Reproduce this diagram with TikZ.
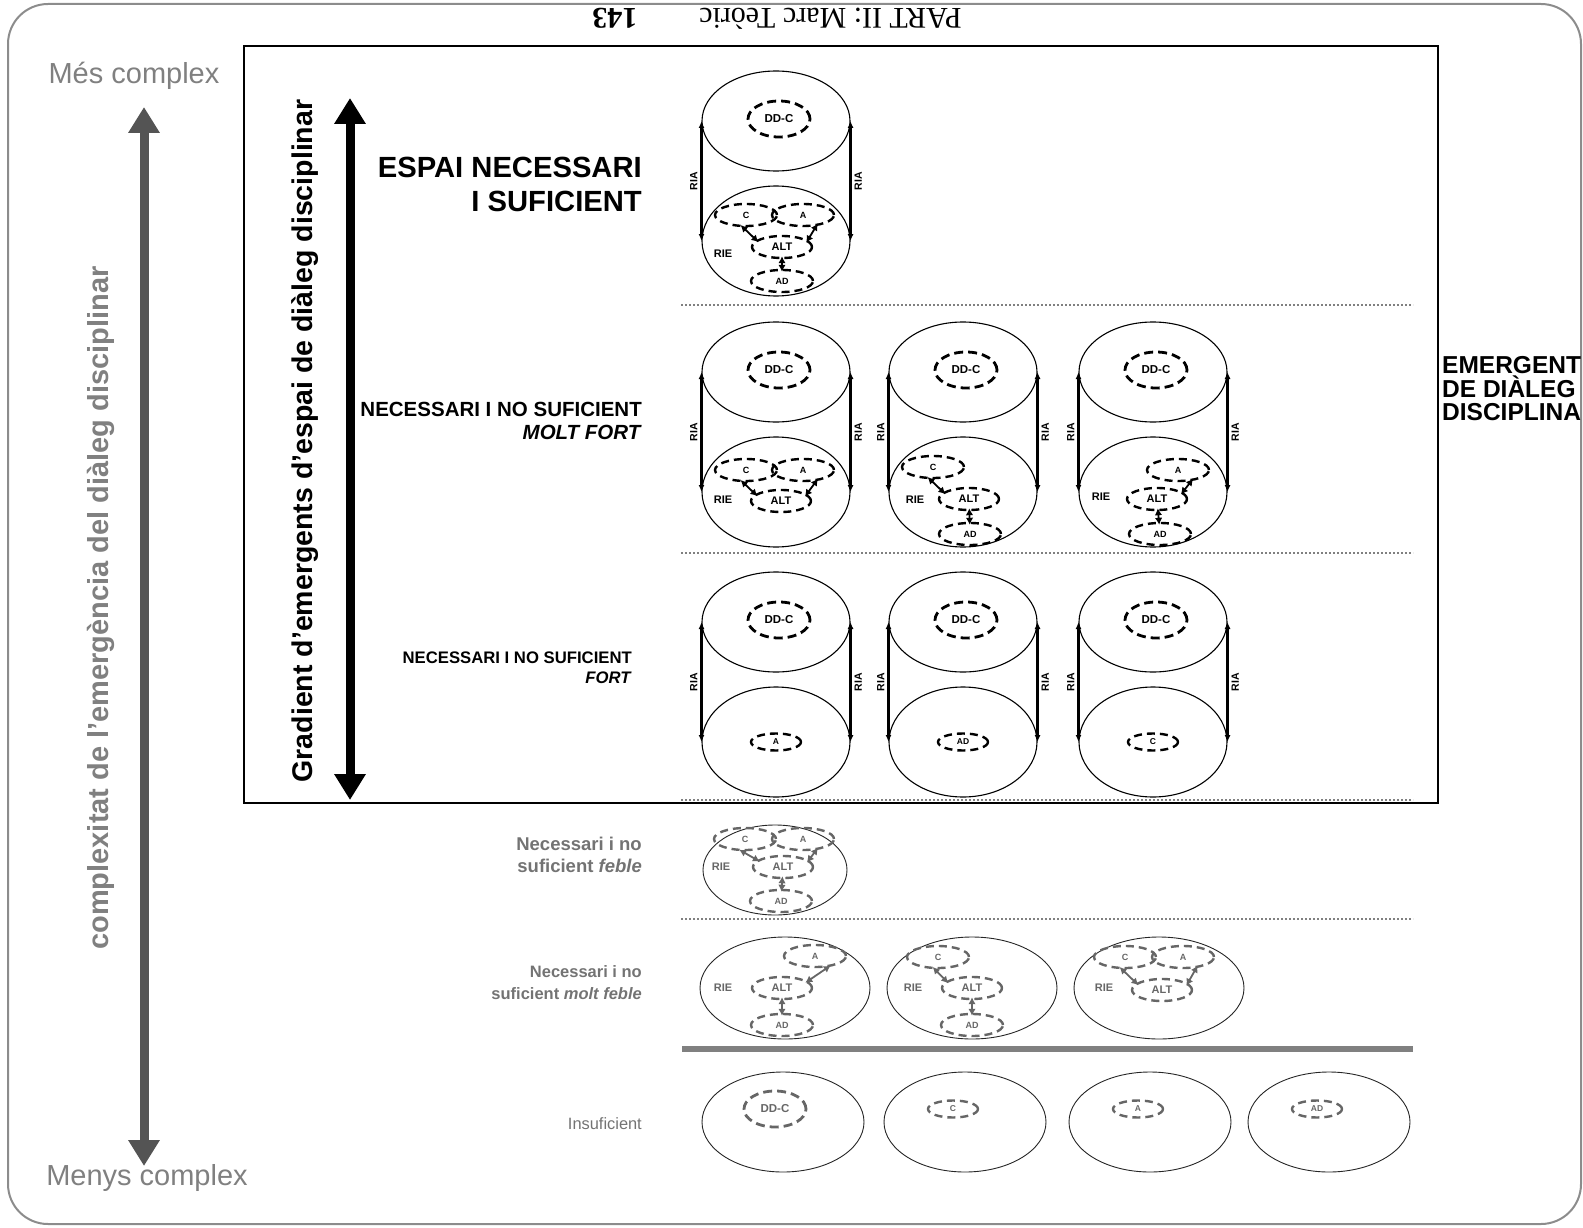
\documentclass[tikz,border=0pt]{standalone}
\usepackage{fontspec}
\setmainfont{Liberation Sans}
\newfontfamily\headserif{Liberation Serif}
\usetikzlibrary{shapes.geometric,arrows.meta}

\newcommand\fsz[2]{\fontsize{#1}{#2}\selectfont}

\tikzset{
  frame/.style={draw=black!45,line width=2pt,rounded corners=40pt},
  disc/.style={draw,ellipse,line width=1.1pt,minimum width=148pt,inner sep=0pt},
  shell/.style={draw=black!85,ellipse,line width=0.9pt,inner sep=0pt},
  ria/.style={line width=2.2pt,>={Latex[length=7pt,width=6pt]},<->},
  rialbl/.style={rotate=90,inner sep=3pt,font=\bfseries\fsz{10.5}{10.5}},
  ddc/.style={draw,ellipse,dash pattern=on 9pt off 5pt,line width=2.8pt,minimum width=62pt,minimum height=36pt,inner sep=0pt,font=\bfseries\fsz{11.5}{11.5}},
  sub/.style={draw,ellipse,dash pattern=on 8pt off 5pt,line width=2.4pt,minimum width=62pt,minimum height=22pt,inner sep=0pt,font=\bfseries\fsz{9}{9}},
  alt/.style={sub,minimum width=60pt,minimum height=22pt,font=\bfseries\fsz{11}{11}},
  subs/.style={sub,minimum width=50pt,minimum height=17pt,font=\bfseries\fsz{8.5}{8.5}},
  link/.style={line width=1.8pt,>={Latex[length=7pt,width=7.5pt]},<->,shorten <=-3pt,shorten >=-3pt},
  rie/.style={inner sep=0pt,font=\bfseries\fsz{11}{11}},
  bigarrow/.style={line width=9pt,>={Triangle[length=26pt,width=30pt]},<->},
  sep/.style={black!50,line width=1.6pt,dash pattern=on 2pt off 2pt},
  lbl/.style={anchor=east,align=right,inner sep=0pt}
}

% #1 prefix, #2 x, #3 y of top disc, #4 contents of the bottom disc
\newcommand\cylinder[4]{%
  \begin{scope}[name prefix=#1-]
  \node[disc,minimum height=100pt] (top) at (#2,#3) {};
  \node[disc,minimum height=110pt] (bot) at (#2,#3+120) {};
  \draw[ria] (top.west) -- node[rialbl,anchor=south]{RIA} (bot.west);
  \draw[ria] (top.east) -- node[rialbl,anchor=north]{RIA} (bot.east);
  \node[ddc] (ddc) at (#2+3,#3-2) {DD-C};
  \begin{scope}[shift={(#2,#3+120)}]
  #4
  \end{scope}
  \end{scope}}

% #1 name, #2 x, #3 y, #4 width, #5 height, #6 contents
\newcommand\flatoval[6]{%
  \node[shell,minimum width=#4pt,minimum height=#5pt] (#1) at (#2,#3) {};
  \begin{scope}[shift={(#2,#3)},name prefix=#1-]
  #6
  \end{scope}}

\begin{document}
\begin{tikzpicture}[x=1pt,y=-1pt]
\useasboundingbox (0,0) rectangle (1583,1228);

\node[rotate=180,anchor=base,font=\headserif\fsz{30}{30}] (hdr) at (777,9) {PART II: Marc Teòric\hspace{62pt}\textbf{143}};
\draw[frame] (8,4) rectangle (1581,1224);
\draw[line width=1.4pt] (244,46) rectangle (1438,803);

\node[text=black!50,font=\fsz{29}{29}] (mes) at (134,76) {Més complex};
\node[text=black!50,font=\fsz{29}{29}] (menys) at (147,1178) {Menys complex};
\node[rotate=90,text=black!50,font=\bfseries\fsz{29}{29}] (cx) at (101,608) {complexitat de l’emergència del diàleg disciplinar};
\coordinate (axtop) at (144,107);
\coordinate (axbot) at (144,1166);
\draw[bigarrow,black!67] (axtop) -- (axbot);

\node[rotate=90,font=\bfseries\fsz{28.5}{28.5}] (grad) at (305,441) {Gradient d’emergents d’espai de diàleg disciplinar};
\coordinate (gtop) at (350,98);
\coordinate (gbot) at (350,800);
\draw[bigarrow] (gtop) -- (gbot);

\foreach \y in {305,553,800,919}
  \draw[sep] (681,\y) -- (1413,\y);
\draw[black!50,line width=6pt] (682,1049) -- (1413,1049);

\node[lbl,font=\bfseries\fsz{29.2}{34}] (espai) at (642,184) {ESPAI NECESSARI\\I SUFICIENT};
\node[lbl,font=\bfseries\fsz{20.5}{23}] (mfort) at (642,421) {NECESSARI I NO SUFICIENT\\\textit{MOLT FORT}};
\node[lbl,font=\bfseries\fsz{16.7}{20}] (fort) at (632,668) {NECESSARI I NO SUFICIENT\\\textit{FORT}};
\node[lbl,text=black!55,font=\bfseries\fsz{18.5}{22}] (feble) at (642,855) {Necessari i no\\suficient \textit{feble}};
\node[lbl,text=black!55,font=\bfseries\fsz{16.5}{22}] (mfeble) at (642,983) {Necessari i no\\suficient \textit{molt feble}};
\node[lbl,text=black!55,font=\fsz{16.4}{20}] (insuf) at (642,1124) {Insuficient};
\node[anchor=west,align=left,inner sep=0pt,font=\bfseries\fsz{24.5}{23.5}] (emerg) at (1442,389) {EMERGENT\\DE DIÀLEG\\DISCIPLINA};

\cylinder{s}{776}{121}{
  \node[sub] (C) at (-30,-26) {C};
  \node[sub] (A) at (27,-26) {A};
  \node[alt] (ALT) at (6,6) {ALT};
  \node[sub] (AD) at (6,40) {AD};
  \node[rie] (rie) at (-53,13) {RIE};
  \draw[link] (C.255) -- (ALT.165);
  \draw[link] (A.320) -- (ALT.15);
  \draw[link] (ALT) -- (AD);}

\cylinder{m1}{776}{372}{
  \node[sub] (C) at (-30,-22) {C};
  \node[sub] (A) at (27,-22) {A};
  \node[alt] (ALT) at (5,9) {ALT};
  \node[rie] (rie) at (-53,8) {RIE};
  \draw[link] (C.255) -- (ALT.165);
  \draw[link] (A.320) -- (ALT.15);}
\cylinder{m2}{963}{372}{
  \node[sub] (C) at (-30,-25) {C};
  \node[alt] (ALT) at (6,7) {ALT};
  \node[sub] (AD) at (7,42) {AD};
  \node[rie] (rie) at (-48,8) {RIE};
  \draw[link] (C.255) -- (ALT.165);
  \draw[link] (ALT) -- (AD);}
\cylinder{m3}{1153}{372}{
  \node[sub] (A) at (25,-22) {A};
  \node[alt] (ALT) at (4,7) {ALT};
  \node[sub] (AD) at (7,42) {AD};
  \node[rie] (rie) at (-52,5) {RIE};
  \draw[link] (A.320) -- (ALT.15);
  \draw[link] (ALT) -- (AD);}

\cylinder{f1}{776}{622}{\node[subs] (A) at (0,0) {A};}
\cylinder{f2}{963}{622}{\node[subs] (AD) at (0,0) {AD};}
\cylinder{f3}{1153}{622}{\node[subs] (C) at (0,0) {C};}

\begin{scope}[black!60]
\flatoval{fb}{775}{870}{144}{90}{
  \node[sub] (C) at (-30,-31) {C};
  \node[sub] (A) at (28,-31) {A};
  \node[alt] (ALT) at (8,-3) {ALT};
  \node[sub] (AD) at (6,31) {AD};
  \node[rie] (rie) at (-54,-3) {RIE};
  \draw[link] (C.255) -- (ALT.165);
  \draw[link] (A.320) -- (ALT.15);
  \draw[link] (ALT) -- (AD);}

\flatoval{mb1}{785}{988}{170}{102}{
  \node[sub] (A) at (30,-32) {A};
  \node[alt] (ALT) at (-3,0) {ALT};
  \node[sub] (AD) at (-3,37) {AD};
  \node[rie] (rie) at (-62,0) {RIE};
  \draw[link] (A.320) -- (ALT.15);
  \draw[link] (ALT) -- (AD);}
\flatoval{mb2}{972}{988}{170}{102}{
  \node[sub] (C) at (-34,-31) {C};
  \node[alt] (ALT) at (0,0) {ALT};
  \node[sub] (AD) at (0,37) {AD};
  \node[rie] (rie) at (-59,0) {RIE};
  \draw[link] (C.255) -- (ALT.165);
  \draw[link] (ALT) -- (AD);}
\flatoval{mb3}{1159}{988}{170}{102}{
  \node[sub] (C) at (-34,-31) {C};
  \node[sub] (A) at (24,-31) {A};
  \node[alt] (ALT) at (3,2) {ALT};
  \node[rie] (rie) at (-55,0) {RIE};
  \draw[link] (C.255) -- (ALT.165);
  \draw[link] (A.320) -- (ALT.15);}

\flatoval{in1}{783}{1122}{162}{100}{\node[ddc] (ddc) at (-8,-13) {DD-C};}
\flatoval{in2}{965}{1122}{162}{100}{\node[subs] (C) at (-12,-13) {C};}
\flatoval{in3}{1150}{1122}{162}{100}{\node[subs] (A) at (-12,-13) {A};}
\flatoval{in4}{1329}{1122}{162}{100}{\node[subs] (AD) at (-12,-13) {AD};}
\end{scope}
\end{tikzpicture}
\end{document}
